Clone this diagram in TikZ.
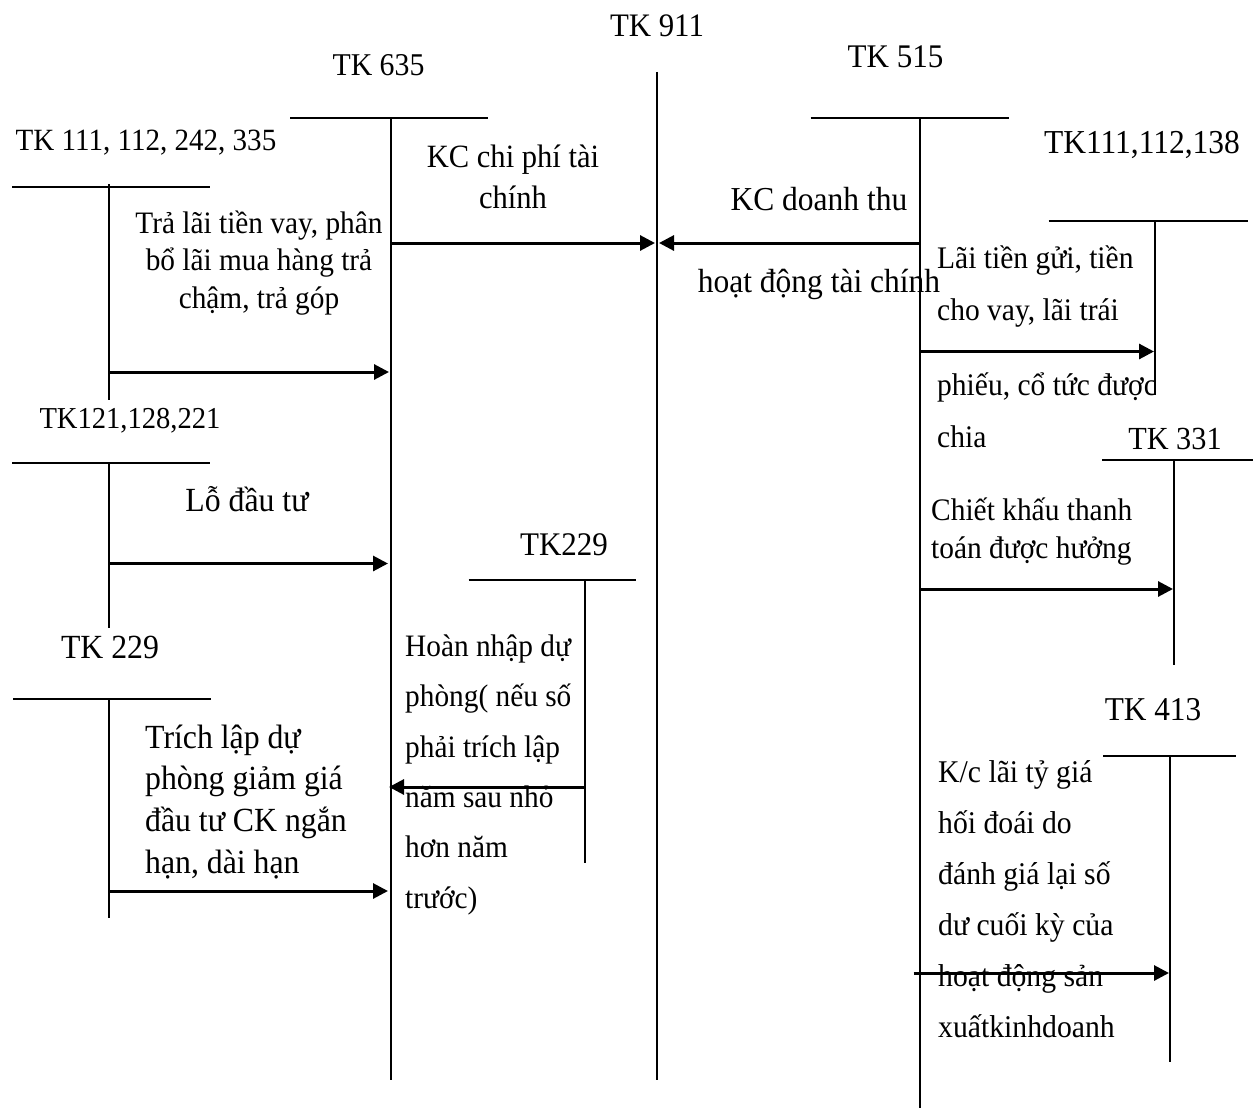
\documentclass[tikz,border=0pt]{standalone}
\usepackage{fontspec}
\setmainfont[FakeStretch=0.94]{Liberation Serif}
\usetikzlibrary{arrows.meta}
% font size / line spacing in one go
\newcommand\setfs[2]{\fontsize{#1}{#2}\selectfont}
% fixes the height of the first line of a text block
\newcommand\lnstrut{\rule{0pt}{34pt}}
\begin{document}
\begin{tikzpicture}[x=1pt,y=-1pt,
  tline/.style={line width=2pt},
  mainline/.style={line width=2.8pt},
  flow/.style={line width=3pt,-{Triangle[length=15pt,width=15pt]}},
  lbl/.style={inner sep=0pt,anchor=base},
  txt/.style={inner sep=0pt,align=left,anchor=north west},
  ctxt/.style={inner sep=0pt,align=center,anchor=north},
]
\useasboundingbox (0,0) rectangle (1253,1108);

% ---------- TK 911 ----------
\node[lbl,font=\setfs{32.8}{38}] (n911) at (657,37) {TK 911};
\coordinate (v911t) at (657,72);
\coordinate (v911b) at (657,1080);
\draw[mainline] (v911t) -- (v911b);

% ---------- TK 635 ----------
\node[lbl,font=\setfs{31.7}{38}] (n635) at (378.5,75) {TK 635};
\coordinate (h635l) at (290,118);
\coordinate (h635r) at (488,118);
\coordinate (v635t) at (390.5,118);
\coordinate (v635b) at (390.5,1080);
\draw[tline] (h635l) -- (h635r);
\draw[tline] (v635t) -- (v635b);

% ---------- TK 515 ----------
\node[lbl,font=\setfs{33}{38}] (n515) at (895.5,68) {TK 515};
\coordinate (h515l) at (810.5,118);
\coordinate (h515r) at (1009,118);
\coordinate (v515t) at (920,118);
\coordinate (v515b) at (920,1108);
\draw[tline] (h515l) -- (h515r);
\draw[tline] (v515t) -- (v515b);

% ---------- TK 111, 112, 242, 335 ----------
\node[lbl,font=\setfs{30.9}{38}] (nA) at (146,150) {TK 111, 112, 242, 335};
\coordinate (hAl) at (12,187);
\coordinate (hAr) at (210,187);
\coordinate (vAt) at (109,184);
\coordinate (vAb) at (109,400);
\draw[tline] (hAl) -- (hAr);
\draw[tline] (vAt) -- (vAb);

% ---------- TK111,112,138 ----------
\node[lbl,font=\setfs{33.5}{38}] (nB) at (1142,153) {TK111,112,138};
\coordinate (hBl) at (1048.5,220.5);
\coordinate (hBr) at (1248,220.5);
\coordinate (vBt) at (1155,220.5);
\coordinate (vBb) at (1155,395);
\draw[tline] (hBl) -- (hBr);
\draw[tline] (vBt) -- (vBb);

% ---------- TK121,128,221 ----------
\node[lbl,font=\setfs{30.4}{38}] (nC) at (130,428) {TK121,128,221};
\coordinate (hCl) at (12,463);
\coordinate (hCr) at (210,463);
\coordinate (vCt) at (109,463);
\coordinate (vCb) at (109,628);
\draw[tline] (hCl) -- (hCr);
\draw[tline] (vCt) -- (vCb);

% ---------- TK229 (middle) ----------
\node[lbl,font=\setfs{33}{38}] (nD) at (564,555) {TK229};
\coordinate (hDl) at (468.5,580);
\coordinate (hDr) at (636,580);
\coordinate (vDt) at (585,580);
\coordinate (vDb) at (585,863);
\draw[tline] (hDl) -- (hDr);
\draw[tline] (vDt) -- (vDb);

% ---------- TK 229 (left) ----------
\node[lbl,font=\setfs{33.8}{38}] (nE) at (110,658) {TK 229};
\coordinate (hEl) at (13,699);
\coordinate (hEr) at (211,699);
\coordinate (vEt) at (109,699);
\coordinate (vEb) at (109,918);
\draw[tline] (hEl) -- (hEr);
\draw[tline] (vEt) -- (vEb);

% ---------- TK 331 ----------
\node[lbl,font=\setfs{32.2}{38}] (nF) at (1175,449) {TK 331};
\coordinate (hFl) at (1102,460);
\coordinate (hFr) at (1253,460);
\coordinate (vFt) at (1174,460);
\coordinate (vFb) at (1174,665);
\draw[tline] (hFl) -- (hFr);
\draw[tline] (vFt) -- (vFb);

% ---------- TK 413 ----------
\node[lbl,font=\setfs{33.3}{38}] (nG) at (1153,720) {TK 413};
\coordinate (hGl) at (1103,756);
\coordinate (hGr) at (1236,756);
\coordinate (vGt) at (1170,756);
\coordinate (vGb) at (1170,1062);
\draw[tline] (hGl) -- (hGr);
\draw[tline] (vGt) -- (vGb);

% ---------- flows ----------
\coordinate (a1s) at (390.5,243);  \coordinate (a1e) at (655,243);
\coordinate (a2s) at (920,243);    \coordinate (a2e) at (659,243);
\coordinate (a3s) at (109,372);    \coordinate (a3e) at (389,372);
\coordinate (a4s) at (109,563.5);  \coordinate (a4e) at (388,563.5);
\coordinate (a5s) at (109,891);    \coordinate (a5e) at (388,891);
\coordinate (a6s) at (585,787);    \coordinate (a6e) at (389,787);
\coordinate (a7s) at (920,351.5);  \coordinate (a7e) at (1154,351.5);
\coordinate (a8s) at (920,589);    \coordinate (a8e) at (1173,589);
\coordinate (a9s) at (913.5,973);  \coordinate (a9e) at (1169,973);
\draw[flow] (a1s) -- (a1e);
\draw[flow] (a2s) -- (a2e);
\draw[flow] (a3s) -- (a3e);
\draw[flow] (a4s) -- (a4e);
\draw[flow] (a5s) -- (a5e);
\draw[flow] (a6s) -- (a6e);
\draw[flow] (a7s) -- (a7e);
\draw[flow] (a8s) -- (a8e);
\draw[flow] (a9s) -- (a9e);

% ---------- descriptions ----------
\node[ctxt,font=\setfs{31.2}{37.5}] (d1) at (259,199)
  {\lnstrut Trả lãi tiền vay, phân\\bổ lãi mua hàng trả\\chậm, trả góp};
\node[ctxt,font=\setfs{32.5}{41}] (d2) at (513,133)
  {\lnstrut KC chi phí tài\\chính};
\node[ctxt,font=\setfs{33.5}{82}] (d3) at (819,176)
  {\lnstrut KC doanh thu\\hoạt động tài chính};
\node[txt,font=\setfs{31.4}{52}] (d4) at (937,234)
  {\lnstrut Lãi tiền gửi, tiền\\cho vay, lãi trái\\[23pt]phiếu, cổ tức được\\chia};
\node[lbl,font=\setfs{33.8}{38}] (d5) at (247,511) {Lỗ đầu tư};
\node[txt,font=\setfs{31.3}{38}] (d6) at (931,486)
  {\lnstrut Chiết khấu thanh\\toán được hưởng};
\node[txt,font=\setfs{31.2}{50.4}] (d7) at (405,622)
  {\lnstrut Hoàn nhập dự\\phòng( nếu số\\phải trích lập\\năm sau nhỏ\\hơn năm\\trước)};
\node[txt,font=\setfs{33.8}{41.7}] (d8) at (145,714)
  {\lnstrut Trích lập dự\\phòng giảm giá\\đầu tư CK ngắn\\hạn, dài hạn};
\node[txt,font=\setfs{31.6}{51}] (d9) at (938,748)
  {\lnstrut K/c lãi tỷ giá\\hối đoái do\\đánh giá lại số\\dư cuối kỳ của\\hoạt động sản\\xuấtkinhdoanh};
\end{tikzpicture}
\end{document}
